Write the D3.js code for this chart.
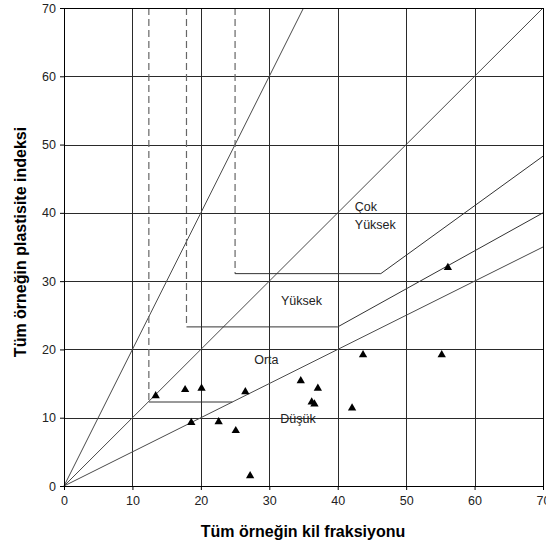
<!DOCTYPE html>
<html>
<head>
<meta charset="utf-8">
<script src="https://cdn.jsdelivr.net/npm/d3@7"></script>
<style>
  body { margin: 0; background: #fff; }
  svg { display: block; font-family: "Liberation Sans", Arial, sans-serif; }
</style>
</head>
<body>
<div id="chart"></div>
<script>
// samples: clay fraction (%) vs plasticity index
const clayFraction = [13.4, 17.7, 20.1, 26.5, 18.6, 22.6, 25.1, 27.2, 34.6, 37.1, 36.2, 36.6, 42.1, 43.7, 55.2, 56.1];
const plasticityIndex = [13.2, 14.1, 14.3, 13.8, 9.3, 9.4, 8.1, 1.5, 15.4, 14.3, 12.3, 12.0, 11.4, 19.2, 19.2, 32.0];

const ticks = [0, 10, 20, 30, 40, 50, 60, 70];

// activity lines from origin
const activityLines = [[[0, 0], [35, 70]], [[0, 0], [70, 70]], [[0, 0], [70, 35]]];
// swell potential class boundaries: dashed part, then solid part
const boundaryDashed = [
  [[12.4, 70], [12.4, 12.3]],
  [[17.9, 70], [17.9, 23.3]],
  [[25, 70], [25, 31.1]]
];
const boundarySolid = [
  [[12.4, 12.3], [24.6, 12.3]],
  [[17.9, 23.3], [40, 23.3], [70, 40]],
  [[25, 31.1], [46.3, 31.1], [70, 48.3]]
];
const classLabels = [
  { text: 'Çok', x: 42.5, y: 40.3 },
  { text: 'Yüksek', x: 42.5, y: 37.6 },
  { text: 'Yüksek', x: 31.7, y: 26.5 },
  { text: 'Orta', x: 27.8, y: 17.9 },
  { text: 'Düşük', x: 31.6, y: 9.2 }
];

const width = 546, height = 549;
const svg = d3.select('#chart').append('svg')
  .attr('width', width).attr('height', height);

const x = d3.scaleLinear().domain([0, 70]).range([64, 543]);
const y = d3.scaleLinear().domain([0, 70]).range([486, 8]);

// grid
const grid = svg.append('g').attr('shape-rendering', 'crispEdges');
grid.selectAll('.vg').data(ticks.slice(1)).enter().append('line')
  .attr('x1', d => Math.round(x(d)) + 0.5).attr('x2', d => Math.round(x(d)) + 0.5)
  .attr('y1', y(0)).attr('y2', y(70))
  .attr('stroke', '#2a2a2a').attr('stroke-width', 1);
grid.selectAll('.hg').data(ticks.slice(1)).enter().append('line')
  .attr('y1', d => Math.round(y(d)) + 0.5).attr('y2', d => Math.round(y(d)) + 0.5)
  .attr('x1', x(0)).attr('x2', x(70))
  .attr('stroke', '#2a2a2a').attr('stroke-width', 1);

const line = d3.line().x(d => x(d[0])).y(d => y(d[1]));

svg.append('g').selectAll('path').data(activityLines).enter().append('path')
  .attr('d', line).attr('fill', 'none').attr('stroke', '#4a4a4a').attr('stroke-width', 1);

svg.append('g').selectAll('path').data(boundaryDashed).enter().append('path')
  .attr('d', line).attr('fill', 'none').attr('stroke', '#666').attr('stroke-width', 1.2)
  .attr('stroke-dasharray', '7,4');

svg.append('g').selectAll('path').data(boundarySolid).enter().append('path')
  .attr('d', line).attr('fill', 'none').attr('stroke', '#333').attr('stroke-width', 1);

// axes
const xAxis = d3.axisBottom(x).tickValues(ticks).tickSize(4).tickPadding(6).tickFormat(d3.format('d'));
const yAxis = d3.axisLeft(y).tickValues(ticks).tickSize(4).tickPadding(4).tickFormat(d3.format('d'));

const gx = svg.append('g').attr('transform', `translate(0,${y(0)})`).call(xAxis);
const gy = svg.append('g').attr('transform', `translate(${x(0)},0)`).call(yAxis);
[gx, gy].forEach(g => {
  g.select('.domain').attr('stroke', '#000');
  g.selectAll('.tick line').attr('stroke', '#000');
  g.selectAll('text').attr('font-size', 12.5).attr('fill', '#222')
    .attr('font-family', '"Liberation Sans", Arial, sans-serif');
});

// frame top/right
svg.append('path')
  .attr('d', `M${x(0)},${y(70)}H${x(70)}V${y(0)}`)
  .attr('fill', 'none').attr('stroke', '#000').attr('shape-rendering', 'crispEdges');

// points
svg.append('g').selectAll('path').data(clayFraction).enter().append('path')
  .attr('d', d3.symbol().type(d3.symbolTriangle).size(30))
  .attr('transform', (d, i) => `translate(${x(d)},${y(plasticityIndex[i])})`)
  .attr('fill', '#000');

// class labels
svg.append('g').selectAll('text').data(classLabels).enter().append('text')
  .attr('x', d => x(d.x)).attr('y', d => y(d.y))
  .attr('font-size', 12.5).attr('fill', '#222')
  .text(d => d.text);

// axis titles
svg.append('text')
  .attr('x', 303).attr('y', 537)
  .attr('text-anchor', 'middle').attr('font-size', 16).attr('font-weight', 'bold')
  .text('Tüm örneğin kil fraksiyonu');

svg.append('text')
  .attr('transform', 'translate(26,242) rotate(-90)')
  .attr('text-anchor', 'middle').attr('font-size', 16).attr('font-weight', 'bold')
  .text('Tüm örneğin plastisite indeksi');
</script>
</body>
</html>
